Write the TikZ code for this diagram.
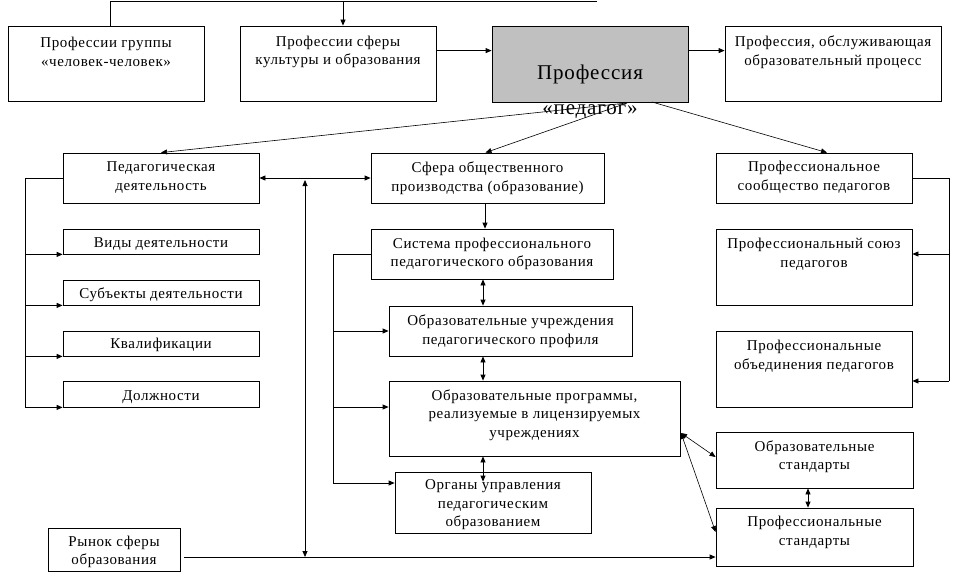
\documentclass[tikz,border=0pt]{standalone}
\usepackage{fontspec}
\setmainfont{Liberation Serif}[LetterSpace=4]
\usetikzlibrary{arrows.meta,calc}
\tikzset{
  boxn/.style={draw, line width=0.8pt, inner sep=0pt},
  txt/.style={align=center, inner sep=0pt, font=\fontsize{15}{18.5}\selectfont},
  bigtxt/.style={align=center, inner sep=0pt, font=\fontsize{21}{35}\selectfont},
  ln/.style={line width=0.8pt},
  thin/.style={line width=0.6pt},
  arr/.style={-{Triangle[length=6pt,width=5pt]}},
  darr/.style={{Triangle[length=6pt,width=5pt]}-{Triangle[length=6pt,width=5pt]}},
}
\newcommand\mybox[6][]{%
  \node[boxn,#1, minimum width={(#4-#2)*1pt}, minimum height={(#5-#3)*1pt}] (#6) at ({(#2+#4)/2},{(#3+#5)/2}) {};}
\begin{document}
\begin{tikzpicture}[x=1pt,y=-1pt]
\useasboundingbox (0,0) rectangle (969,586);
% boxes
\mybox{8}{26}{204}{101}{B1}
\mybox{240}{26}{436}{101}{B2}
\mybox[fill={rgb,255:red,192;green,192;blue,192}]{492}{26}{688}{102}{G}
\mybox{725}{26}{941}{101}{B4}
\mybox{63}{153}{259}{203}{Ped}
\mybox{371}{153}{604}{203}{Sf}
\mybox{716}{153}{912}{203}{PS}
\mybox{63}{229}{259}{254}{Vid}
\mybox{63}{280}{259}{305}{Sub}
\mybox{63}{331}{259}{356}{Kv}
\mybox{63}{381}{259}{407}{Dol}
\mybox{371}{229}{613}{279}{Sys}
\mybox{389}{306}{632}{356}{OU}
\mybox{389}{381}{680}{456}{OP}
\mybox{395}{472}{591}{533}{Org}
\mybox{716}{229}{912}{305}{Soy}
\mybox{716}{331}{912}{407}{Obd}
\mybox{716}{432}{913}{488}{OS}
\mybox{716}{508}{913}{566}{PSt}
\mybox{48}{528}{180}{571}{Ryn}
% texts
\node[txt] (B1t) at (106,52) {Профессии группы\\«человек-человек»};
\node[txt] (B2t) at (338,52) {Профессии сферы\\культуры и образования};
\node[txt] (B4t) at (833,52) {Профессия, обслуживающая\\образовательный процесс};
\node[txt] (Pedt) at (161,177.5) {Педагогическая\\деятельность};
\node[txt] (Sft) at (487.5,178) {Сфера общественного\\производства (образование)};
\node[txt] (PSt1) at (814,177.5) {Профессиональное\\сообщество педагогов};
\node[txt] (Vidt) at (161,244) {Виды деятельности};
\node[txt] (Subt) at (161,295) {Субъекты деятельности};
\node[txt] (Kvt) at (161,345) {Квалификации};
\node[txt] (Dolt) at (161,397) {Должности};
\node[txt] (Syst) at (492,254) {Система профессионального\\педагогического образования};
\node[txt] (OUt) at (510.5,331) {Образовательные учреждения\\педагогического профиля};
\node[txt] (OPt) at (534.5,415) {Образовательные программы,\\реализуемые в лицензируемых\\учреждениях};
\node[txt] (Orgt) at (493,505) {Органы управления\\педагогическим\\образованием};
\node[txt] (Soyt) at (814,254) {Профессиональный союз\\педагогов};
\node[txt] (Obdt) at (814,356) {Профессиональные\\объединения педагогов};
\node[txt] (OSt1) at (814.5,456.5) {Образовательные\\стандарты};
\node[txt] (PStt) at (814.5,532.5) {Профессиональные\\стандарты};
\node[txt] (Rynt) at (114,552) {Рынок сферы\\образования};
% free ends
\coordinate (t1) at (110,1);
\coordinate (t2) at (597,1);
\coordinate (t3) at (343,1);
\coordinate (gL) at (627,103);
\coordinate (gR) at (652,102);
\coordinate (vT) at (305,180);
\coordinate (vB) at (305,557);
\coordinate (lx) at (25,178);
\coordinate (sx) at (333,254);
\coordinate (rx) at (949,178);
\coordinate (opc) at (681,433);
% top connectors
\draw[ln] (B1.north -| t1) -- (t1) -- (t2);
\draw[ln,arr] (t3) -- (B2.north -| t3);
\draw[ln,arr] ($(B2.north east)+(0,25)$) -- ($(G.north west)+(0,25)$);
\draw[ln,arr] ($(G.north east)+(0,25)$) -- ($(B4.north west)+(0,25)$);
% from Profession
\draw[thin,arr] (gL) -- (Ped.north);
\draw[thin,arr] (gL) -- ($(Sf.north)+(-2,0)$);
\draw[thin,arr] (gR) -- ($(PS.north)+(13,0)$);
\node[bigtxt] (Gt) at (590,92) {Профессия\\«педагог»};
% middle links
\draw[ln,darr] (Ped.east) -- (Sf.west);
\draw[ln,darr] (vT) -- (vB);
\draw[ln,arr] ($(Ryn.east)+(4,7.5)$) -- (PSt.west |- vB);
% left bracket
\draw[ln] (Ped.west) -- (lx |- Ped.west) -- (lx |- Dol.south);
\foreach \b in {Vid,Sub,Kv,Dol}{
  \draw[ln,arr] (lx |- \b.south) -- (\b.south west);
}
% middle column
\draw[ln,arr] (Sf.south -| 485,0) -- (Sys.north -| 485,0);
\draw[ln,darr] (Sys.south -| 483,0) -- (OU.north -| 483,0);
\draw[ln,darr] (OU.south -| 483,0) -- (OP.north -| 483,0);
\draw[ln,darr] (OP.south -| 483,0) -- ($(Org.north -| 483,0)+(0,10)$);
\draw[ln] (Sys.west) -- (sx |- Sys.west) -- (sx |- 0,483);
\draw[ln,arr] (sx |- OU.west) -- (OU.west);
\draw[ln,arr] (sx |- 0,407) -- (OP.west |- 0,407);
\draw[ln,arr] (sx |- 0,483) -- (Org.west |- 0,483);
% right bracket
\draw[ln] (PS.east) -- (rx |- PS.east) -- (rx |- 0,381);
\draw[ln,arr] (rx |- 0,254) -- (Soy.east |- 0,254);
\draw[ln,arr] (rx |- 0,381) -- (Obd.east |- 0,381);
% standards
\draw[thin,darr] (opc) -- (OS.west |- 0,457);
\draw[thin,darr] (opc) -- (PSt.west |- 0,532);
\draw[ln,darr] (OS.south -| 808,0) -- (PSt.north -| 808,0);
\end{tikzpicture}
\end{document}
